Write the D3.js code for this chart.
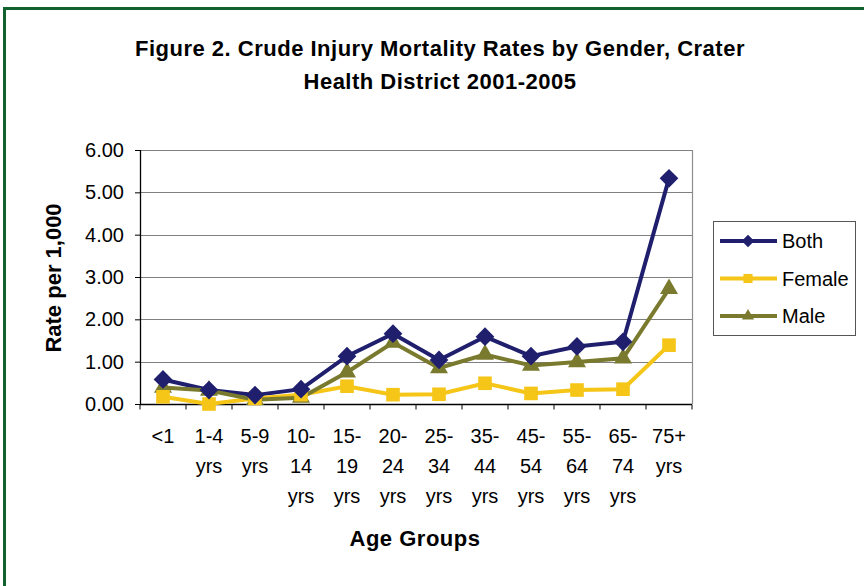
<!DOCTYPE html>
<html>
<head>
<meta charset="utf-8">
<script src="https://cdn.jsdelivr.net/npm/d3@7"></script>
<style>
  body { margin: 0; background: #fff; }
  text { font-family: Arial, "Liberation Sans", sans-serif; }
</style>
</head>
<body>
<div id="chart"></div>
<script>
// Age groups (tick labels split on lines)
var ageGroups = ["<1", "1-4 yrs", "5-9 yrs", "10-14 yrs", "15-19 yrs", "20-24 yrs",
                 "25-34 yrs", "35-44 yrs", "45-54 yrs", "55-64 yrs", "65-74 yrs", "75+ yrs"];
var ageLabelLines = [["<1"], ["1-4", "yrs"], ["5-9", "yrs"], ["10-", "14", "yrs"], ["15-", "19", "yrs"],
                     ["20-", "24", "yrs"], ["25-", "34", "yrs"], ["35-", "44", "yrs"], ["45-", "54", "yrs"],
                     ["55-", "64", "yrs"], ["65-", "74", "yrs"], ["75+", "yrs"]];

// Rates per 1,000
var bothRates   = [0.58, 0.33, 0.21, 0.35, 1.13, 1.66, 1.04, 1.59, 1.13, 1.36, 1.47, 5.33];
var femaleRates = [0.17, 0.00, 0.13, 0.22, 0.42, 0.22, 0.23, 0.49, 0.25, 0.33, 0.35, 1.39];
var maleRates   = [0.39, 0.32, 0.10, 0.15, 0.75, 1.45, 0.85, 1.17, 0.91, 0.99, 1.08, 2.72];

var seriesNames = ["Both", "Female", "Male"];
var yTicks = [0, 1, 2, 3, 4, 5, 6];

// diamond = square turned 45 degrees
var series = [
  {name: seriesNames[0], values: bothRates,   color: "#1f1f6e", marker: d3.symbolSquare,   size: 175, rot: 45},
  {name: seriesNames[1], values: femaleRates, color: "#f5c518", marker: d3.symbolSquare,   size: 185, rot: 0},
  {name: seriesNames[2], values: maleRates,   color: "#7a7a2e", marker: d3.symbolTriangle, size: 140, rot: 0}
];

var W = 864, H = 586;
var margin = {top: 150, left: 140};
var width = 552, height = 254;

var svg = d3.select("#chart").append("svg")
    .attr("width", W)
    .attr("height", H);

// green frame
svg.append("rect")
    .attr("x", 4.5).attr("y", 8.5)
    .attr("width", W + 20).attr("height", H + 20)
    .attr("fill", "none")
    .attr("stroke", "#12622f")
    .attr("stroke-width", 3);

// title
svg.append("text")
    .attr("x", 440).attr("y", 56)
    .attr("text-anchor", "middle")
    .style("font-size", "22px").style("font-weight", "bold").style("letter-spacing", "0.5px")
    .text("Figure 2. Crude Injury Mortality Rates by Gender, Crater");
svg.append("text")
    .attr("x", 440).attr("y", 89)
    .attr("text-anchor", "middle")
    .style("font-size", "22px").style("font-weight", "bold").style("letter-spacing", "0.5px")
    .text("Health District 2001-2005");

var g = svg.append("g")
    .attr("transform", "translate(" + margin.left + "," + margin.top + ")");

var x = d3.scaleBand()
    .domain(ageGroups)
    .range([0, width]);

var y = d3.scaleLinear()
    .domain([0, 6])
    .range([height, 0]);

// horizontal grid
g.selectAll("line.grid").data(yTicks.slice(1)).enter()
  .append("line")
    .attr("class", "grid")
    .attr("x1", 0).attr("x2", width)
    .attr("y1", function(d) { return Math.round(y(d)) + 0.5; })
    .attr("y2", function(d) { return Math.round(y(d)) + 0.5; })
    .attr("stroke", "#7f7f7f")
    .attr("stroke-width", 1.2);

// right border of plot area
g.append("line")
    .attr("x1", width + 0.5).attr("x2", width + 0.5)
    .attr("y1", 0).attr("y2", height)
    .attr("stroke", "#8c8c8c")
    .attr("stroke-width", 1.2);

// y axis
var yAxis = g.append("g")
    .call(d3.axisLeft(y).tickValues(yTicks).tickSize(5).tickPadding(11)
      .tickFormat(d3.format(".2f")));
yAxis.select(".domain").attr("stroke", "#000").attr("stroke-width", 1.3)
    .attr("d", "M0.5,0V" + height);
yAxis.selectAll("text").style("font-size", "20px").attr("fill", "#000")
    .style("font-family", "Arial, 'Liberation Sans', sans-serif");

// x axis
var xAxisG = g.append("g")
    .attr("transform", "translate(0," + (Math.round(height) + 0.5) + ")");
xAxisG.append("line")
    .attr("x1", 0).attr("x2", width)
    .attr("stroke", "#000").attr("stroke-width", 1.3);
xAxisG.selectAll("line.tick").data(d3.range(ageGroups.length + 1)).enter()
  .append("line")
    .attr("class", "tick")
    .attr("x1", function(i) { return i * x.bandwidth(); })
    .attr("x2", function(i) { return i * x.bandwidth(); })
    .attr("y1", 0).attr("y2", 5)
    .attr("stroke", "#000");
ageGroups.forEach(function(a, i) {
  var t = xAxisG.append("text")
      .attr("x", x(a) + x.bandwidth() / 2)
      .attr("text-anchor", "middle")
      .style("font-size", "20px");
  ageLabelLines[i].forEach(function(s, k) {
    t.append("tspan")
      .attr("x", x(a) + x.bandwidth() / 2)
      .attr("y", 38 + k * 30)
      .text(s);
  });
});

// axis titles
svg.append("text")
    .attr("transform", "translate(61,278) rotate(-90)")
    .attr("text-anchor", "middle")
    .style("font-size", "22px").style("font-weight", "bold")
    .text("Rate per 1,000");
svg.append("text")
    .attr("x", 415).attr("y", 546)
    .attr("text-anchor", "middle")
    .style("font-size", "22px").style("font-weight", "bold").style("letter-spacing", "0.5px")
    .text("Age Groups");

// lines and markers
var line = d3.line()
    .x(function(d, i) { return x(ageGroups[i]) + x.bandwidth() / 2; })
    .y(function(d) { return y(d); });

series.forEach(function(s) {
  g.append("path")
      .datum(s.values)
      .attr("fill", "none")
      .attr("stroke", s.color)
      .attr("stroke-width", 4)
      .attr("d", line);
});
series.slice().reverse().forEach(function(s) {
  g.selectAll("path.m-" + s.name).data(s.values).enter()
    .append("path")
      .attr("class", "m-" + s.name)
      .attr("transform", function(d, i) {
        return "translate(" + (x(ageGroups[i]) + x.bandwidth() / 2) + "," + y(d) + ") rotate(" + s.rot + ")";
      })
      .attr("d", d3.symbol().type(s.marker).size(s.size))
      .attr("fill", s.color);
});

// legend
var legend = svg.append("g").attr("transform", "translate(713,221)");
legend.append("rect")
    .attr("x", 0.5).attr("y", 0.5)
    .attr("width", 142).attr("height", 114)
    .attr("fill", "#fff")
    .attr("stroke", "#555").attr("stroke-width", 1);
series.forEach(function(s, i) {
  var ly = 20 + i * 37.5;
  legend.append("line")
      .attr("x1", 7).attr("x2", 64)
      .attr("y1", ly).attr("y2", ly)
      .attr("stroke", s.color).attr("stroke-width", 4);
  legend.append("path")
      .attr("transform", "translate(35," + ly + ") rotate(" + s.rot + ")")
      .attr("d", d3.symbol().type(s.marker).size(s.size * 0.45))
      .attr("fill", s.color);
  legend.append("text")
      .attr("x", 69).attr("y", ly + 7)
      .style("font-size", "20px")
      .text(s.name);
});
</script>
</body>
</html>
